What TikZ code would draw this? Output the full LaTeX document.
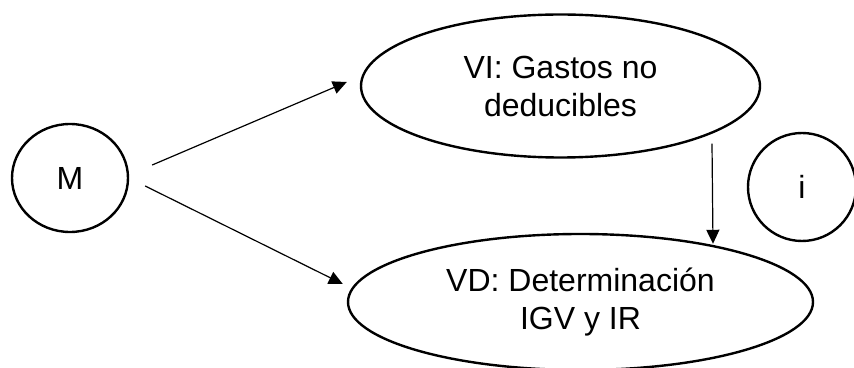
\documentclass[tikz,border=0pt]{standalone}
\usepackage{fontspec}
\setmainfont{Liberation Sans}
\usetikzlibrary{shapes.geometric}
\usetikzlibrary{arrows.meta}

\begin{document}
\begin{tikzpicture}[x=1pt, y=1pt,
  var/.style={draw, ellipse, line width=2.4pt, inner sep=0pt, align=center,
              font=\fontsize{32}{38}\selectfont},
  arr/.style={line width=1.2pt, -{Triangle[length=14pt, width=13pt]}}]

\useasboundingbox (0,0) rectangle (854,367);

\node[var, minimum width=116, minimum height=108] (M)  at ( 70.0, 189.0) {M};
\node[var, minimum width=399, minimum height=143] (VI) at (560.5, 281.0) {VI: Gastos no\\deducibles};
\node[var, minimum width=465, minimum height=136] (VD) at (580.5,  65.0) {VD: Determinación\\IGV y IR};
\node[var, minimum width=108, minimum height=108] (i)  at (802.0, 180.0) {i};

\draw[arr] ([xshift=23, yshift=13]M.east) -- ([xshift=-13, yshift=4]VI.west);
\draw[arr] ([xshift=16, yshift=-8]M.east) -- ([xshift=-4, yshift=18]VD.west);

\draw[arr] ([xshift=151.5, yshift=15]VI.south) -- ([xshift=132.5, yshift=-11]VD.north);

\end{tikzpicture}
\end{document}
